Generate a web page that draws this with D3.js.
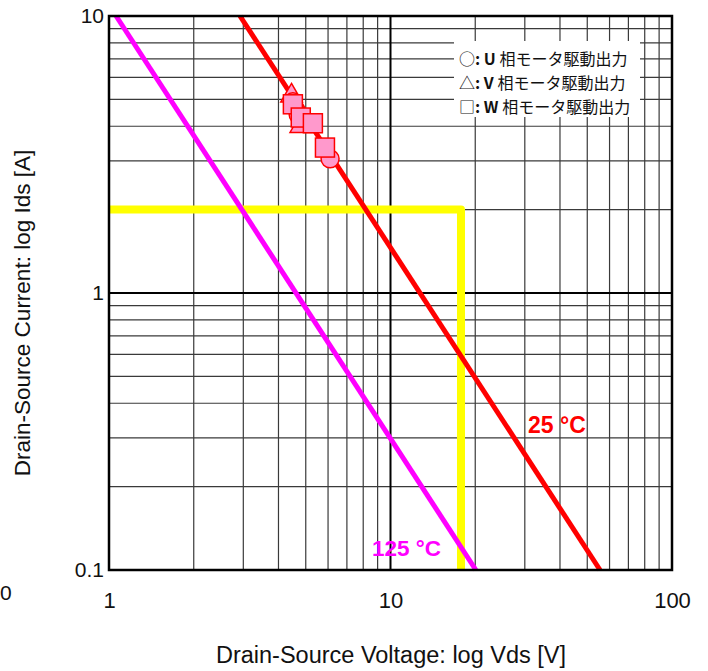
<!DOCTYPE html>
<html><head><meta charset="utf-8">
<script src="https://cdn.jsdelivr.net/npm/d3@7"></script>
<style>body{margin:0;background:#fff}svg{display:block}</style>
</head><body>
<script>
const xDomain = [1, 100];
const yDomain = [0.1, 10];
const xTickLabels = ["1", "10", "100"];
const yTickLabels = ["0.1", "1", "10"];
const line25 = [[2.92, 10], [55.5, 0.1]];
const line125 = [[1.06, 10], [20.1, 0.1]];
const soaX = [1, 17.8, 17.8];
const soaY = [2, 2, 0.1];
const uPoints = [[4.5, 4.9], [4.7, 4.4], [6.1, 3.05]];
const vPoints = [[4.45, 5.15], [4.8, 4.0], [4.9, 4.3]];
const wPoints = [[4.5, 4.8], [4.8, 4.3], [5.3, 4.1], [5.85, 3.35]];
const legendLabels = ["U 相モータ駆動出力", "V 相モータ駆動出力", "W 相モータ駆動出力"];
const legendSymbols = ["○", "△", "□"];

const W = 708, H = 671;
const L = 109, R = 672, T = 16, B = 570;
const svg = d3.select("body").append("svg").attr("width", W).attr("height", H)
  .style("font-family", "Arial, 'Liberation Sans', sans-serif");
const x = d3.scaleLog().domain(xDomain).range([L, R]);
const y = d3.scaleLog().domain(yDomain).range([B, T]);

// minor grid
const minorX = [], minorY = [];
[1, 10].forEach(d => { for (let k = 2; k <= 9; k++) minorX.push(d * k); });
[0.1, 1].forEach(d => { for (let k = 2; k <= 9; k++) minorY.push(d * k); });
svg.append("g").selectAll("line").data(minorX).join("line")
  .attr("x1", d => x(d)).attr("x2", d => x(d)).attr("y1", T).attr("y2", B)
  .attr("stroke", "#3a3a3a").attr("stroke-width", 1.2);
svg.append("g").selectAll("line").data(minorY).join("line")
  .attr("y1", d => y(d)).attr("y2", d => y(d)).attr("x1", L).attr("x2", R)
  .attr("stroke", "#3a3a3a").attr("stroke-width", 1.2);
// major grid
svg.append("line").attr("x1", x(10)).attr("x2", x(10)).attr("y1", T).attr("y2", B)
  .attr("stroke", "#000").attr("stroke-width", 2);
svg.append("line").attr("y1", y(1)).attr("y2", y(1)).attr("x1", L).attr("x2", R)
  .attr("stroke", "#000").attr("stroke-width", 2);

// legend box (white background)
const lg = svg.append("g");
lg.append("rect").attr("x", 454).attr("y", 41).attr("width", 186).attr("height", 76).attr("fill", "#fff");
legendLabels.forEach((t, i) => {
  const tx = lg.append("text").attr("x", 459).attr("y", 65 + i * 24)
    .attr("font-size", 16).attr("fill", "#111")
    .style("font-family", "'Noto Sans CJK JP', Arial, sans-serif");
  tx.append("tspan").text(legendSymbols[i]);
  tx.append("tspan").attr("font-weight", "bold").text(": " + t.split(" ")[0] + " ");
  tx.append("tspan").text(t.split(" ")[1]);
});

// SOA yellow
const yl = d3.line().x(d => x(d[0])).y(d => y(d[1]));
const soa = soaX.map((v, i) => [v, soaY[i]]);
svg.append("path").attr("d", yl(soa)).attr("fill", "none").attr("stroke", "#ffff00")
  .attr("stroke-width", 8).attr("stroke-linejoin", "round");

// curves
svg.append("path").attr("d", yl(line125)).attr("stroke", "#ff00ff").attr("stroke-width", 5).attr("fill", "none");
svg.append("path").attr("d", yl(line25)).attr("stroke", "#ff0000").attr("stroke-width", 5).attr("fill", "none");

// markers
const fillC = "#ff99cc", strokeC = "#ff0000";
svg.append("g").selectAll("path").data(vPoints).join("path")
  .attr("transform", d => `translate(${x(d[0])},${y(d[1])})`)
  .attr("d", d3.symbol(d3.symbolTriangle, 200)())
  .attr("fill", fillC).attr("stroke", strokeC).attr("stroke-width", 1.5);
svg.append("g").selectAll("circle").data(uPoints).join("circle")
  .attr("cx", d => x(d[0])).attr("cy", d => y(d[1])).attr("r", 9)
  .attr("fill", fillC).attr("stroke", strokeC).attr("stroke-width", 1.5);
svg.append("g").selectAll("rect").data(wPoints).join("rect")
  .attr("x", d => x(d[0]) - 9.5).attr("y", d => y(d[1]) - 9.5).attr("width", 19).attr("height", 19)
  .attr("fill", fillC).attr("stroke", strokeC).attr("stroke-width", 1.5);

// frame
svg.append("rect").attr("x", L).attr("y", T).attr("width", R - L).attr("height", B - T)
  .attr("fill", "none").attr("stroke", "#000").attr("stroke-width", 2.5);

// curve labels
svg.append("text").attr("x", 528).attr("y", 433).attr("fill", "#ff0000").attr("font-weight", "bold")
  .attr("font-size", 23).text("25 °C");
svg.append("text").attr("x", 372).attr("y", 556).attr("fill", "#ff00ff").attr("font-weight", "bold")
  .attr("font-size", 22.5).text("125 °C");

// axes
const xAxis = d3.axisBottom(x).tickValues([1, 10, 100]).tickSize(0).tickPadding(22)
  .tickFormat((d, i) => xTickLabels[i]);
const gx = svg.append("g").attr("transform", `translate(0,${B})`).call(xAxis);
gx.select(".domain").remove();
gx.selectAll("text").attr("font-size", 22).attr("fill", "#111").style("font-family", "Arial, 'Liberation Sans', sans-serif");
const yAxis = d3.axisLeft(y).tickValues([0.1, 1, 10]).tickSize(0).tickPadding(4)
  .tickFormat((d, i) => yTickLabels[i]);
const gy = svg.append("g").attr("transform", `translate(${L - 1},0)`).call(yAxis);
gy.select(".domain").remove();
gy.selectAll("text").attr("font-size", 21).attr("fill", "#111").style("font-family", "Arial, 'Liberation Sans', sans-serif");

// stray label at left edge
svg.append("text").attr("x", 0).attr("y", 600).attr("font-size", 21).attr("fill", "#111").text("0");

// titles
svg.append("text").attr("x", 391).attr("y", 663).attr("text-anchor", "middle").attr("font-size", 23.5)
  .attr("fill", "#111").text("Drain-Source Voltage: log Vds [V]");
svg.append("text").attr("transform", `translate(30,${(T + B) / 2 + 20}) rotate(-90)`).attr("text-anchor", "middle")
  .attr("font-size", 22.5).attr("fill", "#111").text("Drain-Source Current: log Ids [A]");
</script>
</body></html>
